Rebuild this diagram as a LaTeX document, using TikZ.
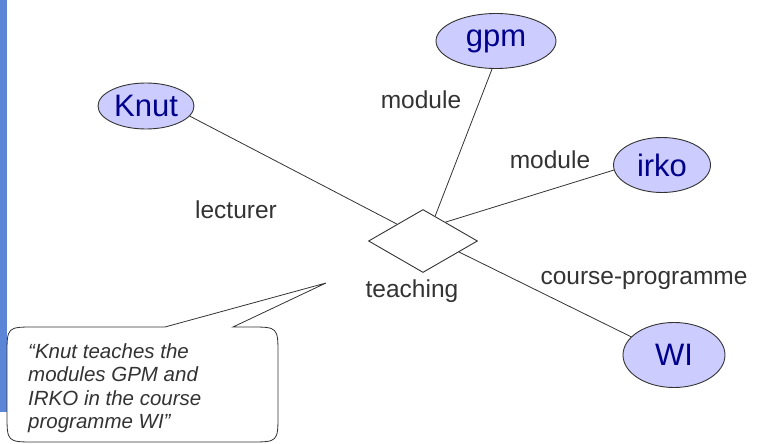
\documentclass[tikz,border=0pt]{standalone}
\usepackage{fontspec}
\setmainfont{Liberation Sans}
\usetikzlibrary{shapes.geometric}
\definecolor{barblue}{HTML}{5B86D8}
\definecolor{entfill}{HTML}{CCCCFF}
\definecolor{enttext}{HTML}{00008C}
\definecolor{linegray}{HTML}{333333}
\definecolor{labgray}{HTML}{333333}
\begin{document}
\begin{tikzpicture}[x=1pt,y=-1pt,
  entity/.style={ellipse, draw=linegray, line width=0.9pt, fill=entfill, inner sep=0pt,
     text=enttext, font=\fontsize{31}{36}\selectfont},
  relship/.style={diamond, draw=linegray, line width=0.9pt, fill=white, inner sep=0pt,
     minimum width=109pt, minimum height=63pt, aspect=1.73},
  conn/.style={draw=linegray, line width=0.8pt},
  lab/.style={text=labgray, inner sep=0pt, font=\fontsize{24.5}{29}\selectfont},
  note/.style={text=labgray, inner sep=0pt, align=left, anchor=north west,
     font=\fontsize{20.5}{23.5}\selectfont\itshape}]
\useasboundingbox (0,0) rectangle (764,444);
\fill[barblue] (0,0) rectangle (6.5,412);
% nodes
\node[relship] (dia) at (423,241) {};
\node[entity, minimum width=96pt, minimum height=46pt] (knut) at (146,106) {Knut};
\node[entity, minimum width=120pt, minimum height=55pt] (gpm) at (496,41) {gpm};
\node[entity, minimum width=97pt, minimum height=55pt] (irko) at (662,165) {irko};
\node[entity, minimum width=102pt, minimum height=65pt] (wi) at (674,355) {WI};
% connectors
\draw[conn] (knut.347) -- (dia.147);
\draw[conn] (gpm.262) -- (dia.64);
\draw[conn] (irko.186) -- (dia.40);
\draw[conn] (wi.157) -- (dia.343);
% labels
\node[lab] (lmod1) at (421,100) {module};
\node[lab] (llect) at (236,210) {lecturer};
\node[lab] (lmod2) at (550,160) {module};
\node[lab] (lteach) at (412,291) {teaching};
\node[lab] (lcourse) at (644,280) {course-programme};
% callout
\coordinate (tip) at (326,283);
\draw[linegray, line width=0.8pt, fill=white]
  (35,327) -- (165,327) -- (tip) -- (233,327) -- (250,327)
  .. controls (278,327) .. (278,355) -- (278,414)
  .. controls (278,442) .. (250,442) -- (35,442)
  .. controls (7,442) .. (7,414) -- (7,355)
  .. controls (7,327) .. (35,327) -- cycle;
\node[note] (quote) at (28,343) {``Knut teaches the\\modules GPM and\\IRKO in the course\\programme WI''};
\end{tikzpicture}
\end{document}
